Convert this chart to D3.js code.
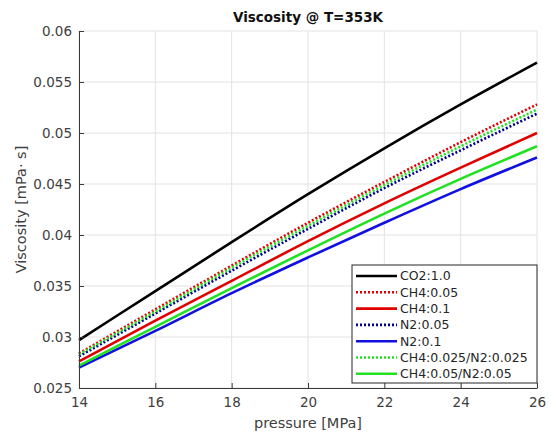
<!DOCTYPE html>
<html>
<head>
<meta charset="utf-8">
<script src="https://cdn.jsdelivr.net/npm/d3@7"></script>
<style>
  html, body { margin: 0; padding: 0; background: #fff; }
  svg { display: block; font-family: "DejaVu Sans", sans-serif; }
</style>
</head>
<body>
<svg id="chart" width="551" height="435"></svg>
<script>
// pressure grid [MPa]
const pressure = [14, 16, 18, 20, 22, 24, 26];

// viscosity [mPa·s] for each gas mixture
const co2 = [0.0297, 0.0345, 0.0393, 0.0440, 0.0485, 0.0528, 0.0569];
const ch4_005 = [0.0284, 0.0327, 0.0370, 0.0412, 0.0452, 0.0491, 0.0528];
const ch4_01 = [0.0276, 0.0316, 0.0355, 0.0394, 0.0431, 0.0466, 0.0500];
const n2_005 = [0.0281, 0.0323, 0.0365, 0.0406, 0.0446, 0.0483, 0.0519];
const n2_01 = [0.0270, 0.0306, 0.0343, 0.0378, 0.0412, 0.0445, 0.0476];
const mix_0025 = [0.0283, 0.0325, 0.0368, 0.0409, 0.0449, 0.0487, 0.0523];
const mix_005 = [0.0272, 0.0310, 0.0348, 0.0385, 0.0421, 0.0455, 0.0487];

const seriesNames = ["CO2:1.0", "CH4:0.05", "CH4:0.1", "N2:0.05", "N2:0.1",
                     "CH4:0.025/N2:0.025", "CH4:0.05/N2:0.05"];
const seriesValues = [co2, ch4_005, ch4_01, n2_005, n2_01, mix_0025, mix_005];

const xTicks = [14, 16, 18, 20, 22, 24, 26];
const yTicks = [0.025, 0.03, 0.035, 0.04, 0.045, 0.05, 0.055, 0.06];
const yTickLabels = ["0.025", "0.03", "0.035", "0.04", "0.045", "0.05", "0.055", "0.06"];

// line styles per series
const styles = [
  { color: "#000000", dash: null },
  { color: "#e00000", dash: "2,2" },
  { color: "#e00000", dash: null },
  { color: "#00008c", dash: "2,2" },
  { color: "#1010e0", dash: null },
  { color: "#22e022", dash: "2,2" },
  { color: "#22e022", dash: null }
];

const svg = d3.select("#chart");
const m = { left: 79, right: 537, top: 31, bottom: 388 };

const x = d3.scaleLinear().domain([14, 26]).range([m.left, m.right]);
const y = d3.scaleLinear().domain([0.025, 0.06]).range([m.bottom, m.top]);

const axisColor = "#3a3a3a";
const textColor = "#404040";

// grid
const grid = svg.append("g");
grid.selectAll(".gx").data(xTicks).join("line")
  .attr("x1", d => x(d)).attr("x2", d => x(d))
  .attr("y1", m.top).attr("y2", m.bottom)
  .attr("stroke", "#e2e2e2").attr("stroke-width", 1);
grid.selectAll(".gy").data(yTicks).join("line")
  .attr("x1", m.left).attr("x2", m.right)
  .attr("y1", d => y(d)).attr("y2", d => y(d))
  .attr("stroke", "#e2e2e2").attr("stroke-width", 1);

// curves
const line = d3.line()
  .x((d, i) => x(pressure[i]))
  .y(d => y(d))
  .curve(d3.curveMonotoneX);

const plot = svg.append("g");
seriesValues.forEach((vals, k) => {
  plot.append("path")
    .datum(vals)
    .attr("d", line)
    .attr("fill", "none")
    .attr("stroke", styles[k].color)
    .attr("stroke-width", 2.6)
    .attr("stroke-dasharray", styles[k].dash);
});

// axes (ticks pointing inward)
const xAxis = d3.axisBottom(x).tickValues(xTicks).tickSizeInner(-5).tickSizeOuter(0)
  .tickFormat(d3.format("d"));
const gx = svg.append("g").attr("transform", `translate(0,${m.bottom})`).call(xAxis);
gx.select(".domain").attr("stroke", axisColor);
gx.selectAll(".tick line").attr("stroke", axisColor);
gx.selectAll(".tick text").attr("fill", textColor).attr("font-size", 13.5)
  .attr("font-family", "DejaVu Sans").attr("dy", "1.15em");

const yAxis = d3.axisLeft(y).tickValues(yTicks).tickSizeInner(-5).tickSizeOuter(0)
  .tickFormat((d, i) => yTickLabels[i]);
const gy = svg.append("g").attr("transform", `translate(${m.left},0)`).call(yAxis);
gy.select(".domain").attr("stroke", axisColor);
gy.selectAll(".tick line").attr("stroke", axisColor);
gy.selectAll(".tick text").attr("fill", textColor).attr("font-size", 13.5)
  .attr("font-family", "DejaVu Sans").attr("x", -7);

// titles
svg.append("text")
  .attr("x", (m.left + m.right) / 2).attr("y", 22)
  .attr("text-anchor", "middle").attr("font-size", 13.5).attr("font-weight", "bold")
  .attr("fill", "#111").text("Viscosity @ T=353K");

svg.append("text")
  .attr("x", (m.left + m.right) / 2).attr("y", 428)
  .attr("text-anchor", "middle").attr("font-size", 14.5).attr("fill", textColor)
  .text("pressure [MPa]");

svg.append("text")
  .attr("transform", `translate(26,${(m.top + m.bottom) / 2}) rotate(-90)`)
  .attr("text-anchor", "middle").attr("font-size", 14.5).attr("fill", textColor)
  .text("Viscosity [mPa· s]");

// legend
const lg = svg.append("g");
const lx = 352, ly = 265, lw = m.right - lx, lh = 118;
lg.append("rect").attr("x", lx).attr("y", ly).attr("width", lw).attr("height", lh)
  .attr("fill", "#fff").attr("stroke", "#262626").attr("stroke-width", 1);
seriesNames.forEach((name, k) => {
  const cy = ly + 11 + k * 16.3;
  lg.append("line")
    .attr("x1", lx + 4).attr("x2", lx + 45).attr("y1", cy).attr("y2", cy)
    .attr("stroke", styles[k].color).attr("stroke-width", 2.6)
    .attr("stroke-dasharray", styles[k].dash);
  lg.append("text")
    .attr("x", lx + 48).attr("y", cy).attr("dy", "0.35em")
    .attr("font-size", 12.5).attr("fill", "#262626").text(name);
});
</script>
</body>
</html>
